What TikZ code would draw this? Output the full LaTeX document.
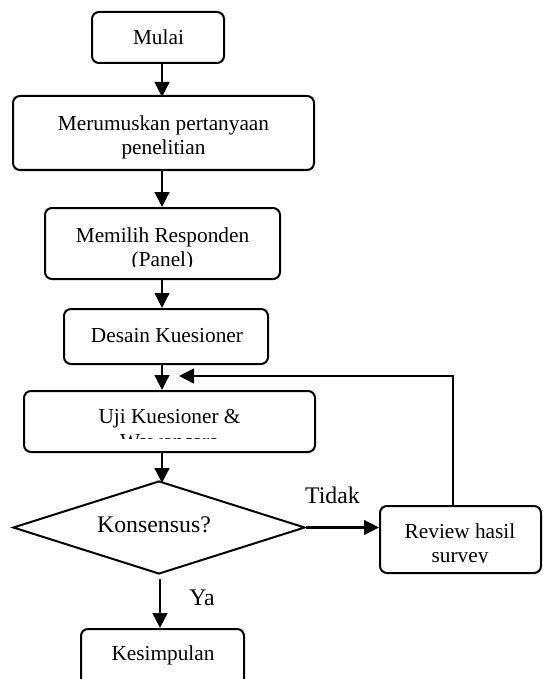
\documentclass[tikz,border=0pt]{standalone}
\usepackage{fontspec}
\setmainfont{Liberation Serif}
\usetikzlibrary{shapes.geometric,arrows.meta}
\begin{document}
\begin{tikzpicture}[x=1pt,y=-1pt,
  box/.style={draw,line width=2pt,rounded corners=7pt,inner sep=0pt},
  decide/.style={draw,diamond,line width=2pt,inner sep=0pt,minimum width=292pt,minimum height=93pt},
  arr/.style={line width=2.9pt,-{Triangle[length=15pt,width=14.5pt]}},
  txt/.style={anchor=base,inner sep=0pt,font=\fontsize{21.3}{24}\selectfont},
  big/.style={anchor=base,inner sep=0pt,font=\fontsize{23.8}{27}\selectfont}]
\useasboundingbox (0,0) rectangle (542,679);
\coordinate (spine) at (162,0);
\coordinate (fb) at (453,0);
\coordinate (fbend) at (179,376);
% boxes
\node[box,minimum width=132pt,minimum height=51pt] (mulai) at (158,37.5) {};
\node[box,minimum width=301pt,minimum height=74pt] (merum) at (163.5,133) {};
\node[box,minimum width=235pt,minimum height=71pt] (memilih) at (162.5,243.5) {};
\node[box,minimum width=204pt,minimum height=55pt] (desain) at (166,336.5) {};
\node[box,minimum width=291pt,minimum height=61pt] (uji) at (169.5,421.5) {};
\node[decide] (dia) at (159,527.5) {};
\node[box,minimum width=161pt,minimum height=67pt] (review) at (460.5,539.5) {};
\node[box,minimum width=163pt,minimum height=62pt] (kes) at (162.5,660) {};
% texts
\node[txt] (tmulai) at (158.5,45) {Mulai};
\node[txt] (tmerum1) at (163.5,131) {Merumuskan pertanyaan};
\node[txt] (tmerum2) at (163.5,155) {penelitian};
\node[txt] (tmem1) at (162.5,242) {Memilih Responden};
\begin{scope}
  \clip (0,200) rectangle (542,266.5);
  \node[txt] (tmem2) at (162.5,266) {(Panel)};
\end{scope}
\node[txt] (tdesain) at (167,342) {Desain Kuesioner};
\node[txt] (tuji1) at (169.5,423) {Uji Kuesioner \&};
\begin{scope}
  \clip (0,400) rectangle (542,438.5);
  \node[txt] (tuji2) at (169.5,448) {Wawancara};
\end{scope}
\node[big] (tdia) at (154,532) {Konsensus?};
\node[txt] (trev1) at (460,538) {Review hasil};
\begin{scope}
  \clip (300,540) rectangle (542,562);
  \node[txt] (trev2) at (460,562) {survey};
\end{scope}
\node[txt] (tkes) at (163,660) {Kesimpulan};
\node[big] (tidak) at (332.5,503) {Tidak};
\node[big] (ya) at (202,605) {Ya};
% connectors
\draw[arr] (mulai.south -| spine) -- ([yshift=-2pt]merum.north -| spine);
\draw[arr] (merum.south -| spine) -- (memilih.north -| spine);
\draw[arr] (memilih.south -| spine) -- (desain.north -| spine);
\draw[arr] (desain.south -| spine) -- (uji.north -| spine);
\draw[arr] (uji.south -| spine) -- ([yshift=-3pt]dia.north -| spine);
\draw[arr] (dia.east) -- (review.west |- dia.east);
\draw[arr,shorten <=4pt] ([xshift=1pt]dia.south) -- ([xshift=1pt]kes.north -| dia.south);
\draw[arr] (review.north -| fb) |- (fbend);
\end{tikzpicture}
\end{document}
